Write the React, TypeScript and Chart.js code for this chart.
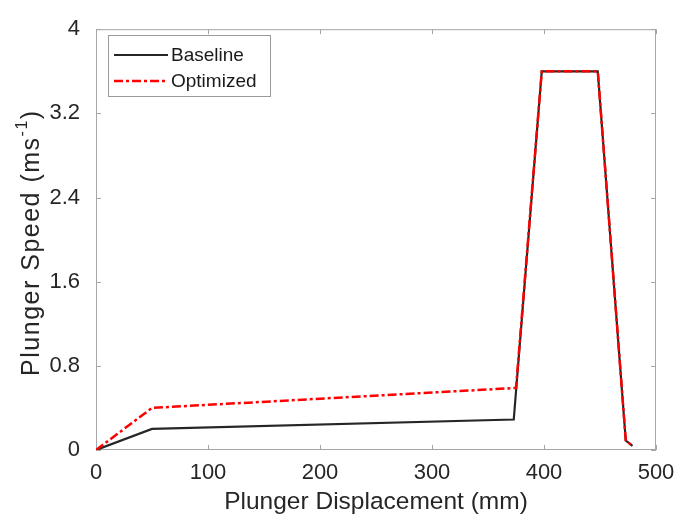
import React, { useEffect, useRef } from "react";
import { Chart, registerables } from "chart.js";

Chart.register(...registerables);

const baselineX = [0, 50, 373, 398, 448, 473, 479];
const baselineY = [0, 0.2, 0.29, 3.6, 3.6, 0.09, 0.04];
const optimizedX = [0, 50, 375, 398, 448, 473, 479];
const optimizedY = [0, 0.4, 0.59, 3.6, 3.6, 0.09, 0.04];
const seriesNames = ["Baseline", "Optimized"];
const xTicks = [0, 100, 200, 300, 400, 500];
const yTicks = [0, 0.8, 1.6, 2.4, 3.2, 4];
const xTitle = "Plunger Displacement (mm)";
const yTitleMain = "Plunger Speed (ms";
const yTitleSup = "-1";
const yTitleEnd = ")";

const FONT = "'Liberation Sans', Arial, sans-serif";
const AXIS_GRAY = "#a6a6a6";
const TEXT = "#262626";

const framePlugin = {
  id: "frame",
  beforeDatasetsDraw(chart: any) {
    const { ctx, chartArea: a, scales } = chart;
    ctx.save();
    ctx.strokeStyle = AXIS_GRAY;
    ctx.lineWidth = 1;
    ctx.strokeRect(a.left + 0.5, a.top + 0.5, a.right - a.left - 1, a.bottom - a.top - 1);
    const len = 5;
    ctx.beginPath();
    xTicks.forEach((v) => {
      const px = Math.round(scales.x.getPixelForValue(v)) + 0.5;
      ctx.moveTo(px, a.bottom);
      ctx.lineTo(px, a.bottom - len);
      ctx.moveTo(px, a.top);
      ctx.lineTo(px, a.top + len);
    });
    yTicks.forEach((v) => {
      const py = Math.round(scales.y.getPixelForValue(v)) + 0.5;
      ctx.moveTo(a.left, py);
      ctx.lineTo(a.left + len, py);
      ctx.moveTo(a.right, py);
      ctx.lineTo(a.right - len, py);
    });
    ctx.stroke();
    ctx.restore();
  },
  afterDraw(chart: any) {
    const { ctx, chartArea: a } = chart;
    // y axis title with superscript
    ctx.save();
    const cx = 32;
    const cy = (a.top + a.bottom) / 2 + 3;
    ctx.translate(cx, cy);
    ctx.rotate(-Math.PI / 2);
    ctx.fillStyle = TEXT;
    ctx.textBaseline = "middle";
    const big = "25px " + FONT;
    const small = "16px " + FONT;
    (ctx as any).letterSpacing = "1.5px";
    ctx.font = big;
    const w1 = ctx.measureText(yTitleMain).width;
    const w3 = ctx.measureText(yTitleEnd).width;
    ctx.font = small;
    const w2 = ctx.measureText(yTitleSup).width;
    const total = w1 + w2 + w3;
    let x = -total / 2;
    ctx.textAlign = "left";
    ctx.font = big;
    ctx.fillText(yTitleMain, x, 0);
    x += w1;
    ctx.font = small;
    ctx.fillText(yTitleSup, x, -9);
    x += w2;
    ctx.font = big;
    ctx.fillText(yTitleEnd, x, 0);
    ctx.restore();

    // legend
    ctx.save();
    const bx = 108.5, by = 35.5, bw = 162, bh = 61;
    ctx.fillStyle = "#ffffff";
    ctx.fillRect(bx, by, bw, bh);
    ctx.strokeStyle = "#9a9a9a";
    ctx.lineWidth = 1;
    ctx.strokeRect(bx, by, bw, bh);
    const rows = [55, 81];
    chart.data.datasets.forEach((ds: any, i: number) => {
      const y = rows[i];
      ctx.beginPath();
      ctx.strokeStyle = ds.borderColor;
      ctx.lineWidth = ds.borderWidth;
      ctx.setLineDash(ds.borderDash || []);
      ctx.moveTo(114, y);
      ctx.lineTo(168, y);
      ctx.stroke();
      ctx.setLineDash([]);
      ctx.fillStyle = "#1a1a1a";
      ctx.font = "19px " + FONT;
      ctx.textAlign = "left";
      ctx.textBaseline = "middle";
      ctx.fillText(ds.label, 171, y + 1);
    });
    ctx.restore();
  },
};

export default function App() {
  const ref = useRef<HTMLCanvasElement>(null);
  useEffect(() => {
    document.body.style.margin = "0";
    const canvas = ref.current!;
    const chart = new Chart(canvas, {
      type: "line",
      data: {
        datasets: [
          {
            label: seriesNames[0],
            data: baselineX.map((x, i) => ({ x, y: baselineY[i] })),
            borderColor: "#262626",
            borderWidth: 2.2,
            pointRadius: 0,
            tension: 0,
            fill: false,
            order: 2,
          },
          {
            label: seriesNames[1],
            data: optimizedX.map((x, i) => ({ x, y: optimizedY[i] })),
            borderColor: "#ff0000",
            borderWidth: 2.5,
            borderDash: [9, 3, 3, 3],
            pointRadius: 0,
            tension: 0,
            fill: false,
            order: 1,
          },
        ],
      },
      options: {
        responsive: false,
        animation: false,
        layout: { padding: { top: 23, right: 36, left: 0, bottom: 0 } },
        plugins: { legend: { display: false }, tooltip: { enabled: false } },
        scales: {
          x: {
            type: "linear",
            min: 0,
            max: 500,
            afterFit: (s: any) => {
              s.height = 71;
            },
            afterBuildTicks: (s: any) => {
              s.ticks = xTicks.map((v) => ({ value: v }));
            },
            grid: { display: false, drawTicks: false },
            border: { display: false },
            ticks: {
              padding: 10,
              maxRotation: 0,
              color: TEXT,
              font: { family: FONT, size: 22 },
              callback: (v: any) => String(v),
            },
            title: {
              display: true,
              text: xTitle,
              color: TEXT,
              font: { family: FONT, size: 24.5 },
              padding: { top: 0, bottom: 4 },
            },
          },
          y: {
            type: "linear",
            min: 0,
            max: 4,
            afterFit: (s: any) => {
              s.width = 96;
            },
            afterBuildTicks: (s: any) => {
              s.ticks = yTicks.map((v) => ({ value: v }));
            },
            grid: { display: false, drawTicks: false },
            border: { display: false },
            ticks: {
              padding: 16,
              color: TEXT,
              font: { family: FONT, size: 22 },
              callback: (v: any) => String(Number(Number(v).toFixed(1))),
            },
          },
        },
      },
      plugins: [framePlugin],
    });
    return () => chart.destroy();
  }, []);
  return (
    <div style={{ width: 692, height: 521 }}>
      <canvas ref={ref} width={692} height={521} />
    </div>
  );
}
